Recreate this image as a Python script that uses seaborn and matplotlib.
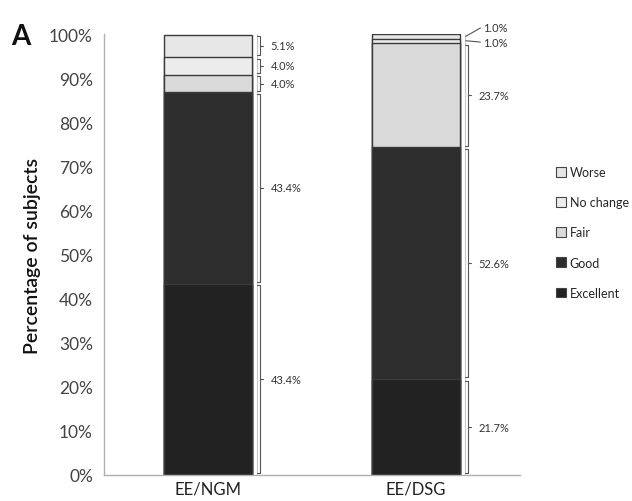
import pandas as pd
import matplotlib.pyplot as plt
import seaborn as sns
from matplotlib.patches import Patch

# values (percent of subjects)
groups = ['EE/NGM', 'EE/DSG']
ratings = ['Excellent', 'Good', 'Fair', 'No change', 'Worse']
ngm = [43.4, 43.4, 4.0, 4.0, 5.1]
dsg = [21.7, 52.6, 23.7, 1.0, 1.0]
labels_ngm = ['43.4%', '43.4%', '4.0%', '4.0%', '5.1%']
labels_dsg = ['21.7%', '52.6%', '23.7%', '1.0%', '1.0%']

colors = {'Excellent': '#222222', 'Good': '#2d2d2d', 'Fair': '#dadada',
          'No change': '#ececec', 'Worse': '#e6e6e6'}

df = pd.DataFrame({'group': [g for g in groups for _ in ratings],
                   'rating': ratings * 2,
                   'pct': ngm + dsg})
df['top'] = df.groupby('group')['pct'].cumsum()
df['bottom'] = df['top'] - df['pct']

sns.set_style('white')
plt.rcParams['font.family'] = ['Lato', 'DejaVu Sans']

fig = plt.figure(figsize=(6.32, 5.02), dpi=100)
ax = fig.add_axes([0.1646, 0.052, 0.658, 0.878])

bar_w = 0.42
# stack by overlaying cumulative bars, tallest first
for r in reversed(ratings):
    sub = df[df['rating'] == r]
    sns.barplot(data=sub, x='group', y='top', order=groups, color=colors[r],
                width=bar_w, edgecolor='#3a3a3a', linewidth=1.0, ax=ax,
                saturation=1)

ax.set_xlim(-0.5, 1.5)
ax.set_ylim(0, 100)
ax.set_yticks(range(0, 101, 10))
ax.set_yticklabels([f'{v}%' for v in range(0, 101, 10)], fontsize=12.5, color='#444444')
ax.set_xticks([0, 1])
ax.set_xticklabels(groups, fontsize=12, color='#222222')
ax.set_xlabel('')
ax.set_ylabel('Percentage of subjects', fontsize=14, color='#111111',
              fontweight='semibold', labelpad=6)
sns.despine(ax=ax, top=True, right=True)
for s in ['left', 'bottom']:
    ax.spines[s].set_color('#b0b0b0')
    ax.spines[s].set_linewidth(1.0)
ax.tick_params(axis='y', length=0, pad=8)
ax.tick_params(axis='x', length=0, pad=4)

# brackets with value labels beside each segment
def brackets(xc, sub, labels, special_top=False):
    xb = xc + bar_w / 2 + 0.04
    ax.plot([xb - 0.012, xb - 0.012], [0, 100], color='#c8c8c8', lw=0.8, clip_on=False)
    for i, (_, row) in enumerate(sub.iterrows()):
        b, t = row['bottom'] + 0.4, row['top'] - 0.4
        mid = (row['bottom'] + row['top']) / 2
        if special_top and i >= 3:
            continue
        ax.plot([xb - 0.015, xb, xb, xb - 0.015], [b, b, t, t],
                color='#555555', lw=0.8, clip_on=False)
        ax.plot([xb, xb + 0.015], [mid, mid], color='#555555', lw=0.8, clip_on=False)
        ax.text(xb + 0.05, mid, labels[i], fontsize=8, color='#333333',
                va='center', ha='left')
    if special_top:
        rows = sub.iloc[3:]
        ylab = [101.4, 98.2]
        for j, (_, row) in enumerate(rows.iloc[::-1].iterrows()):
            mid = (row['bottom'] + row['top']) / 2
            ax.plot([xb - 0.01, xb + 0.06], [mid, ylab[j]], color='#555555',
                    lw=0.8, clip_on=False)
            ax.text(xb + 0.075, ylab[j], labels[4 - j], fontsize=8,
                    color='#333333', va='center', ha='left', clip_on=False)

brackets(0, df[df['group'] == groups[0]], labels_ngm)
brackets(1, df[df['group'] == groups[1]], labels_dsg, special_top=True)

handles = [Patch(facecolor=colors[r], edgecolor='#444444', linewidth=0.8, label=r)
           for r in reversed(ratings)]
fig.legend(handles=handles, loc='upper left', bbox_to_anchor=(0.872, 0.677),
           frameon=False, fontsize=9, handlelength=0.8, handleheight=0.8,
           handletextpad=0.3, labelspacing=1.45, borderaxespad=0)

fig.text(0.018, 0.91, 'A', fontsize=20, fontweight='bold', color='#111111')

fig.savefig('out.png', dpi=100)
